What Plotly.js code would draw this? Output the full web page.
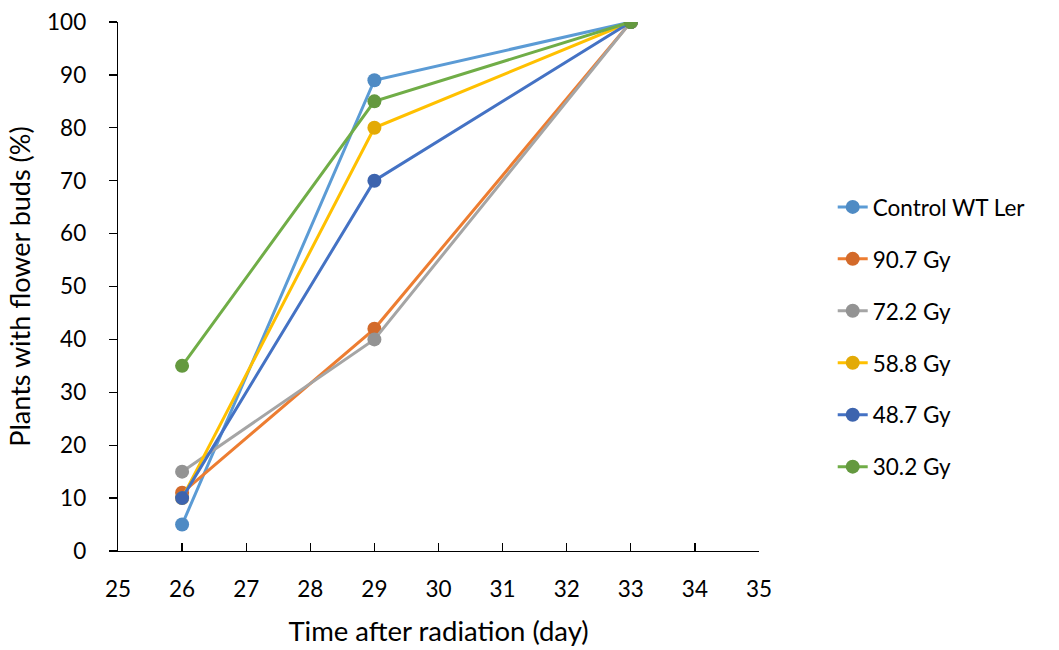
<!DOCTYPE html>
<html><head><meta charset="utf-8">
<script src="https://cdn.plot.ly/plotly-3.0.1.min.js"></script>
<style>body{margin:0;background:#fff}#chart{width:1059px;height:650px}</style>
</head><body><div id="chart"></div>
<script>
const days = [26, 29, 33];
const seriesNames = ["Control WT Ler", "90.7 Gy", "72.2 Gy", "58.8 Gy", "48.7 Gy", "30.2 Gy"];
const control = [5, 89, 100];
const gy907 = [11, 42, 100];
const gy722 = [15, 40, 100];
const gy588 = [10, 80, 100];
const gy487 = [10, 70, 100];
const gy302 = [35, 85, 100];
const lineColors = ["#5B9BD5", "#ED7D31", "#A5A5A5", "#FFC000", "#4472C4", "#70AD47"];
const markerColors = ["#4F8BC4", "#D36A2A", "#939393", "#E3AA06", "#3D64AE", "#64993F"];
const allValues = [control, gy907, gy722, gy588, gy487, gy302];

const FONT = "Lato, 'Liberation Sans', sans-serif";
const traces = allValues.map((vals, i) => ({
  type: "scatter", mode: "lines+markers",
  x: days, y: vals, name: seriesNames[i],
  legendgroup: "g" + i,
  line: {color: lineColors[i], width: 3},
  marker: {color: markerColors[i], size: 14}
}));

const layout = {
  width: 1059, height: 650,
  margin: {l: 118, r: 300, t: 22, b: 99},
  paper_bgcolor: "#fff", plot_bgcolor: "#fff",
  font: {family: FONT, size: 22, color: "#000"},
  showlegend: true,
  legend: {x: 1.115, xanchor: "left", y: 0.405, yanchor: "middle",
           traceorder: "grouped", tracegroupgap: 19.7,
           font: {family: FONT, size: 22.5, color: "#000"}},
  xaxis: {range: [25, 35], dtick: 1, tick0: 25, showgrid: false, zeroline: false,
          showline: true, linecolor: "#000", linewidth: 1.3,
          ticks: "inside", ticklen: 8, tickcolor: "#000", tickwidth: 1.3,
          ticklabelstandoff: 18,
          tickfont: {family: FONT, size: 22.5},
          title: {text: "Time after radiation (day)", font: {family: FONT, size: 27.5}, standoff: 20}},
  yaxis: {range: [0, 100], dtick: 10, showgrid: false, zeroline: false,
          showline: true, linecolor: "#000", linewidth: 1.3,
          ticks: "outside", ticklen: 8, tickcolor: "#000", tickwidth: 1.3,
          ticklabelstandoff: 18,
          tickfont: {family: FONT, size: 22.5},
          title: {text: "Plants with flower buds (%)", font: {family: FONT, size: 27}, standoff: 8}}
};
Plotly.newPlot("chart", traces, layout, {displayModeBar: false, staticPlot: true});
</script></body></html>
